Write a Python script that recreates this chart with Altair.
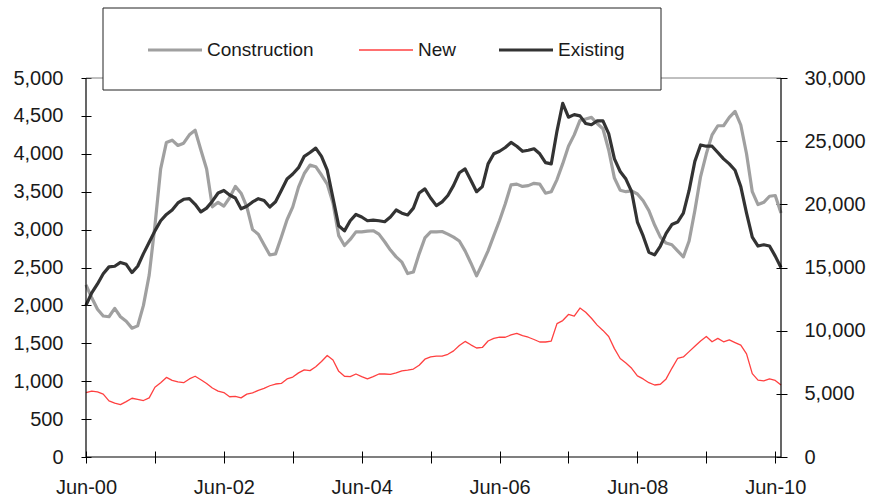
import altair as alt
import pandas as pd

# Monthly series, Jun-2000 .. Jul-2010 (month index 0 = Jun-00)
months = list(range(122))

construction = [
    2270, 2100, 1950, 1860, 1850, 1960, 1850, 1790, 1700, 1730,
    2000, 2400, 3050, 3800, 4150, 4180, 4110, 4140, 4250, 4310,
    4050, 3800, 3300, 3360, 3310, 3420, 3570, 3480, 3300, 3000,
    2940, 2800, 2665, 2680, 2900, 3130, 3300, 3560, 3740, 3850,
    3830, 3720, 3600, 3350, 2920, 2790, 2870, 2970, 2970, 2980,
    2985, 2940, 2840, 2730, 2640, 2570, 2420, 2440, 2680, 2890,
    2970, 2970, 2975, 2940, 2900, 2850, 2720, 2560, 2390, 2550,
    2720, 2920, 3120, 3340, 3590, 3600, 3570, 3580, 3610, 3600,
    3480, 3500, 3660, 3870, 4100, 4250, 4440, 4460, 4480, 4400,
    4330, 4050, 3680, 3520, 3500, 3510, 3470, 3380, 3250, 3060,
    2900, 2823, 2800, 2720, 2640, 2850, 3250, 3700, 4000, 4250,
    4370, 4370, 4480, 4560, 4380, 4000, 3500, 3330, 3360, 3440,
    3450, 3220,
]

new = [
    850, 870, 860, 830, 740, 710, 690, 730, 775, 760,
    745, 780, 920, 980, 1050, 1010, 990, 980, 1030, 1065,
    1020, 970, 910, 870, 850, 795, 800, 780, 830, 845,
    880, 905, 940, 963, 970, 1030, 1055, 1110, 1150, 1140,
    1190, 1260, 1340, 1280, 1130, 1065, 1060, 1095, 1060, 1030,
    1060, 1095, 1095, 1090, 1110, 1135, 1145, 1160, 1210, 1290,
    1320, 1330, 1330, 1355, 1400, 1470, 1525, 1480, 1438, 1445,
    1530, 1565, 1580, 1580, 1610, 1630, 1600, 1580, 1550, 1517,
    1517, 1530, 1760, 1800, 1880, 1860, 1965, 1910, 1830, 1740,
    1670, 1590, 1430, 1300, 1240, 1170, 1070, 1030, 980, 950,
    960, 1030, 1170, 1300, 1320, 1390, 1460, 1530, 1590, 1520,
    1565, 1520, 1545, 1510, 1475, 1360, 1100, 1015, 1005, 1030,
    1010, 950,
]

existing = [
    12000, 13000, 13700, 14500, 15050, 15100, 15400, 15250, 14600, 15100,
    16100, 17000, 17900, 18700, 19200, 19550, 20110, 20400, 20450, 20000,
    19400, 19700, 20250, 20900, 21100, 20740, 20500, 19650, 19850, 20190,
    20450, 20300, 19790, 20200, 21100, 22000, 22400, 22900, 23800, 24100,
    24450, 23800, 22700, 20500, 18300, 17900, 18700, 19200, 19000, 18700,
    18750, 18700, 18620, 19000, 19550, 19300, 19160, 19700, 20900, 21220,
    20500, 19900, 20200, 20700, 21500, 22500, 22800, 21900, 21000, 21400,
    23200, 24000, 24200, 24500, 24900, 24600, 24200, 24280, 24400, 24000,
    23300, 23200, 25800, 28000, 26900, 27100, 27000, 26400, 26300, 26600,
    26600, 25600, 23600, 22600, 22000, 21000, 18600, 17500, 16200, 16000,
    16700, 17700, 18400, 18600, 19300, 21100, 23400, 24700, 24600, 24600,
    24100, 23600, 23200, 22700, 21400, 19300, 17400, 16700, 16800, 16700,
    15900, 15000,
]

series_names = ["Construction", "New", "Existing"]
series_colors = ["#a0a0a0", "#ff4040", "#333333"]

# Yearly ticks; labels every second June
x_tick_months = [0, 12, 24, 36, 48, 60, 72, 84, 96, 108, 120]
x_tick_labels = ["Jun-00", "", "Jun-02", "", "Jun-04", "", "Jun-06", "",
                 "Jun-08", "", "Jun-10"]
left_ticks = list(range(0, 5001, 500))
right_ticks = list(range(0, 30001, 5000))

FONT = "Liberation Sans"
TEXT = "#1a1a1a"
AXIS_FS = 20
LEGEND_FS = 19
W, H = 695, 379

df = pd.DataFrame({"month": months, "Construction": construction,
                   "New": new, "Existing": existing})
left_long = df.melt(id_vars="month", value_vars=["Construction", "New"],
                    var_name="series", value_name="value")

label_js = "[" + ",".join("'%s'" % s for s in x_tick_labels) + "]"
x_enc = alt.X(
    "month:Q",
    scale=alt.Scale(domain=[0, 121], nice=False, zero=False),
    axis=alt.Axis(values=x_tick_months, labelExpr=label_js + "[round(datum.value/12)]",
                  domain=False, grid=False, tickSize=12, offset=-6,
                  tickColor="black", labelPadding=14, labelFontSize=AXIS_FS,
                  labelFont=FONT, labelColor=TEXT, labelFlush=False,
                  labelOverlap=False, labelAngle=0, title=None),
)

left_lines = alt.Chart(left_long).mark_line(strokeJoin="round").encode(
    x=x_enc,
    y=alt.Y("value:Q",
            scale=alt.Scale(domain=[0, 5000], nice=False),
            axis=alt.Axis(values=left_ticks, format=",.0f", domain=False, grid=False,
                          tickSize=10, offset=-5, tickColor="black",
                          labelPadding=18, labelFontSize=AXIS_FS, labelFont=FONT,
                          labelColor=TEXT, title=None)),
    color=alt.Color("series:N", scale=alt.Scale(domain=series_names[:2],
                                                range=series_colors[:2]),
                    legend=None),
    strokeWidth=alt.StrokeWidth("series:N", scale=alt.Scale(domain=series_names[:2],
                                                            range=[3.2, 1.3]),
                                legend=None),
    detail="series:N",
)

right_line = alt.Chart(df).mark_line(color=series_colors[2], strokeWidth=3.2,
                                     strokeJoin="round").encode(
    x=x_enc,
    y=alt.Y("Existing:Q",
            scale=alt.Scale(domain=[0, 30000], nice=False),
            axis=alt.Axis(orient="right", values=right_ticks, format=",.0f",
                          domain=False, grid=False, tickSize=11, offset=-5,
                          tickColor="black", labelPadding=17, labelFontSize=AXIS_FS,
                          labelFont=FONT, labelColor=TEXT, title=None)),
)

one = pd.DataFrame({"k": [0]})

# Top border line of the plot area
top_line = alt.Chart(one).mark_rule(color="#808080", strokeWidth=1).encode(
    x=alt.value(0), x2=alt.value(W), y=alt.value(0))

# Axis lines
axis_lines = [
    alt.Chart(one).mark_rule(color="black", strokeWidth=1.2).encode(
        x=alt.value(0), y=alt.value(0), y2=alt.value(H)),
    alt.Chart(one).mark_rule(color="black", strokeWidth=1.2).encode(
        x=alt.value(W), y=alt.value(0), y2=alt.value(H)),
    alt.Chart(one).mark_rule(color="black", strokeWidth=1.2).encode(
        x=alt.value(0), x2=alt.value(W), y=alt.value(H)),
]

# Legend box with samples and names
legend_box = alt.Chart(one).mark_rect(fill="white", stroke="#222222",
                                      strokeWidth=1).encode(
    x=alt.value(17), x2=alt.value(575), y=alt.value(-70), y2=alt.value(12))

legend_layers = []
sample_x = [62, 273, 413]
sample_w = [3.2, 1.3, 3.2]
for name, color, sx, sw in zip(series_names, series_colors, sample_x, sample_w):
    legend_layers.append(
        alt.Chart(one).mark_rule(color=color, strokeWidth=sw).encode(
            x=alt.value(sx), x2=alt.value(sx + 54), y=alt.value(-28)))
    legend_layers.append(
        alt.Chart(one).mark_text(align="left", baseline="middle", fontSize=LEGEND_FS,
                                 font=FONT, color=TEXT).encode(
            x=alt.value(sx + 59), y=alt.value(-28), text=alt.value(name)))

chart = alt.layer(
    top_line, left_lines, right_line, *axis_lines, legend_box, *legend_layers
).resolve_scale(y="independent").properties(
    width=W, height=H,
    autosize=alt.AutoSizeParams(type="none"),
    padding={"left": 86, "top": 78, "right": 88, "bottom": 45},
    background="white",
).configure_view(stroke=None)

chart.save("out.html", embed_options={"renderer": "svg", "actions": False})
